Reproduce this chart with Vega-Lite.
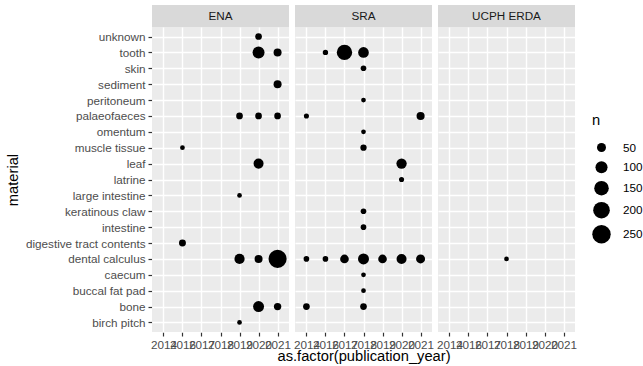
{
  "$schema": "https://vega.github.io/schema/vega-lite/v6.json",
  "padding": {"left": 5, "top": 5, "right": 0, "bottom": 0},
  "background": "white",
  "config": {
    "font": "Liberation Sans",
    "view": {"stroke": null},
    "axis": {"domain": false, "grid": true, "tickColor": "#333333", "tickSize": 4, "tickWidth": 1.2, "labelColor": "#4D4D4D", "labelFontSize": 11.7, "labelPadding": 3, "titleFontSize": 14.7, "titleFontWeight": "normal", "titleColor": "black", "gridColor": "white", "gridWidth": 1.4},
    "legend": {"titleFontSize": 14.7, "titleFontWeight": "normal", "titleColor": "black", "labelFontSize": 11.7, "labelColor": "black"}
  },
  "data": {"values": [
    {"source": "ENA", "material": "unknown", "year": "2020", "n": 22},
    {"source": "ENA", "material": "tooth", "year": "2020", "n": 98},
    {"source": "ENA", "material": "tooth", "year": "2021", "n": 37},
    {"source": "ENA", "material": "sediment", "year": "2021", "n": 37},
    {"source": "ENA", "material": "palaeofaeces", "year": "2019", "n": 22},
    {"source": "ENA", "material": "palaeofaeces", "year": "2020", "n": 22},
    {"source": "ENA", "material": "palaeofaeces", "year": "2021", "n": 22},
    {"source": "ENA", "material": "muscle tissue", "year": "2016", "n": 5},
    {"source": "ENA", "material": "leaf", "year": "2020", "n": 65},
    {"source": "ENA", "material": "large intestine", "year": "2019", "n": 5},
    {"source": "ENA", "material": "digestive tract contents", "year": "2016", "n": 25},
    {"source": "ENA", "material": "dental calculus", "year": "2019", "n": 68},
    {"source": "ENA", "material": "dental calculus", "year": "2020", "n": 37},
    {"source": "ENA", "material": "dental calculus", "year": "2021", "n": 240},
    {"source": "ENA", "material": "bone", "year": "2020", "n": 80},
    {"source": "ENA", "material": "bone", "year": "2021", "n": 30},
    {"source": "ENA", "material": "birch pitch", "year": "2019", "n": 5},
    {"source": "SRA", "material": "tooth", "year": "2016", "n": 10},
    {"source": "SRA", "material": "tooth", "year": "2017", "n": 170},
    {"source": "SRA", "material": "tooth", "year": "2018", "n": 75},
    {"source": "SRA", "material": "skin", "year": "2018", "n": 12},
    {"source": "SRA", "material": "peritoneum", "year": "2018", "n": 5},
    {"source": "SRA", "material": "palaeofaeces", "year": "2014", "n": 8},
    {"source": "SRA", "material": "palaeofaeces", "year": "2021", "n": 38},
    {"source": "SRA", "material": "omentum", "year": "2018", "n": 5},
    {"source": "SRA", "material": "muscle tissue", "year": "2018", "n": 18},
    {"source": "SRA", "material": "leaf", "year": "2020", "n": 70},
    {"source": "SRA", "material": "latrine", "year": "2020", "n": 8},
    {"source": "SRA", "material": "keratinous claw", "year": "2018", "n": 12},
    {"source": "SRA", "material": "intestine", "year": "2018", "n": 12},
    {"source": "SRA", "material": "dental calculus", "year": "2014", "n": 12},
    {"source": "SRA", "material": "dental calculus", "year": "2016", "n": 12},
    {"source": "SRA", "material": "dental calculus", "year": "2017", "n": 45},
    {"source": "SRA", "material": "dental calculus", "year": "2018", "n": 80},
    {"source": "SRA", "material": "dental calculus", "year": "2019", "n": 45},
    {"source": "SRA", "material": "dental calculus", "year": "2020", "n": 65},
    {"source": "SRA", "material": "dental calculus", "year": "2021", "n": 50},
    {"source": "SRA", "material": "caecum", "year": "2018", "n": 5},
    {"source": "SRA", "material": "buccal fat pad", "year": "2018", "n": 5},
    {"source": "SRA", "material": "bone", "year": "2014", "n": 22},
    {"source": "SRA", "material": "bone", "year": "2018", "n": 22},
    {"source": "UCPH ERDA", "material": "dental calculus", "year": "2018", "n": 5}
  ]},
  "spacing": 0,
  "vconcat": [
    {
      "transform": [{"aggregate": [{"op": "count", "as": "k"}], "groupby": ["source"]}],
      "facet": {"column": {"field": "source", "type": "nominal", "header": null, "sort": ["ENA", "SRA", "UCPH ERDA"]}},
      "spacing": 6,
      "spec": {
        "width": 137,
        "height": 22,
        "view": {"fill": "#D9D9D9", "stroke": null},
        "mark": {"type": "text", "color": "#1A1A1A", "fontSize": 11.7, "baseline": "middle"},
        "encoding": {"text": {"field": "source", "type": "nominal"}}
      }
    },
    {
      "facet": {"column": {"field": "source", "type": "nominal", "sort": ["ENA", "SRA", "UCPH ERDA"], "title": "as.factor(publication_year)", "header": {"labels": false, "titleOrient": "bottom", "titleFontSize": 14.7, "titleFontWeight": "normal", "titleColor": "black", "titlePadding": -12}}},
      "spacing": 6,
      "spec": {
        "width": 137,
        "height": 305,
        "view": {"fill": "#EBEBEB", "stroke": null},
        "mark": {"type": "circle", "color": "black", "opacity": 1},
        "encoding": {
          "x": {"field": "year", "type": "nominal", "scale": {"type": "point", "padding": 0.6, "domain": ["2014", "2016", "2017", "2018", "2019", "2020", "2021"]}, "axis": {"title": null, "labelAngle": 0, "grid": true, "gridColor": "white", "gridWidth": 1.4, "gridOpacity": 1}},
          "y": {"field": "material", "type": "nominal", "scale": {"type": "point", "padding": 0.6, "domain": ["unknown", "tooth", "skin", "sediment", "peritoneum", "palaeofaeces", "omentum", "muscle tissue", "leaf", "latrine", "large intestine", "keratinous claw", "intestine", "digestive tract contents", "dental calculus", "caecum", "buccal fat pad", "bone", "birch pitch"]}, "axis": {"title": "material", "titlePadding": 5, "grid": true, "gridColor": "white", "gridWidth": 1.4, "gridOpacity": 1}},
          "size": {"field": "n", "type": "quantitative", "scale": {"domain": [0, 300], "range": [16, 406]}, "legend": {"values": [50, 100, 150, 200, 250], "orient": "none", "legendX": 440, "legendY": 108, "titlePadding": 14, "rowPadding": 6, "labelOffset": 12, "symbolStrokeWidth": 0, "symbolFillColor": "black"}}
        }
      }
    }
  ]
}
